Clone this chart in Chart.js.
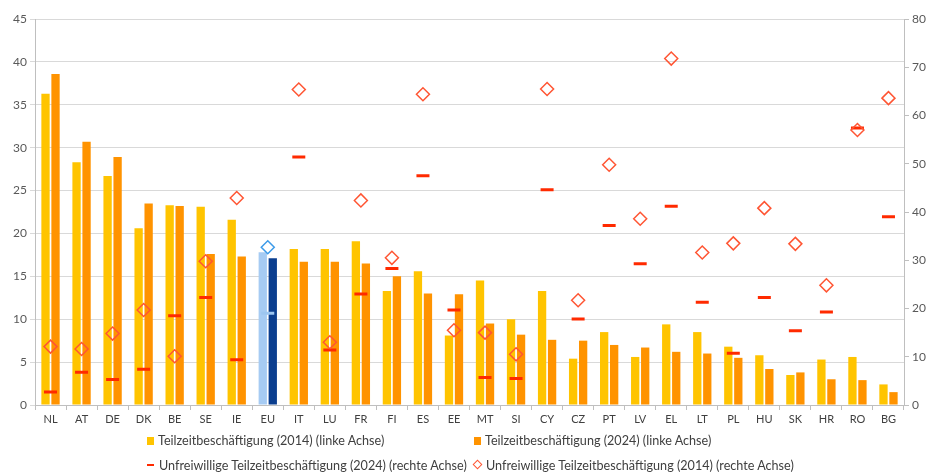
<!DOCTYPE html>
<html lang="de">
<head>
<meta charset="utf-8">
<title>Teilzeitbeschäftigung</title>
<script src="https://cdn.jsdelivr.net/npm/chart.js@4.4.1/dist/chart.umd.min.js"></script>
<style>
  html, body { margin: 0; padding: 0; background: #fff; }
  #wrap { position: relative; width: 928px; height: 474px; }
  #chart { position: absolute; left: 0; top: 0; }
  .leg { position: absolute; font: 12.6px Lato, "Liberation Sans", sans-serif; color: #404040; white-space: nowrap; line-height: 16px; }
  .box { display: inline-block; width: 7px; height: 8px; margin-right: 4px; }
  .dash { display: inline-block; width: 7px; height: 2px; background: #ff2a00; margin-right: 5px; vertical-align: 4px; }
  .dia { display: inline-block; width: 5px; height: 5px; border: 1.5px solid #ff5533; transform: rotate(45deg); margin-right: 5px; vertical-align: 2px; }
</style>
</head>
<body>
<div id="wrap">
  <canvas id="chart" width="928" height="474"></canvas>
  <div class="leg" style="left:147px; top:433px;"><span class="box" style="background:#ffc400"></span>Teilzeitbeschäftigung (2014) (linke Achse)</div>
  <div class="leg" style="left:474px; top:433px;"><span class="box" style="background:#ff9300"></span>Teilzeitbeschäftigung (2024) (linke Achse)</div>
  <div class="leg" style="left:147px; top:458px;"><span class="dash"></span>Unfreiwillige Teilzeitbeschäftigung (2024) (rechte Achse)</div>
  <div class="leg" style="left:474px; top:458px;"><span class="dia"></span>Unfreiwillige Teilzeitbeschäftigung (2014) (rechte Achse)</div>
</div>
<script>
// Länder (EU-Durchschnitt an Position 8)
const countries = ['NL', 'AT', 'DE', 'DK', 'BE', 'SE', 'IE', 'EU', 'IT', 'LU', 'FR', 'FI', 'ES', 'EE',
  'MT', 'SI', 'CY', 'CZ', 'PT', 'LV', 'EL', 'LT', 'PL', 'HU', 'SK', 'HR', 'RO', 'BG'];

// Teilzeitquote in % (linke Achse)
const partTime2014 = [36.3, 28.3, 26.7, 20.6, 23.3, 23.1, 21.6, 17.8, 18.2, 18.2, 19.1, 13.3, 15.6, 8.1,
  14.5, 10.0, 13.3, 5.4, 8.5, 5.6, 9.4, 8.5, 6.8, 5.8, 3.5, 5.3, 5.6, 2.4];
const partTime2024 = [38.6, 30.7, 28.9, 23.5, 23.2, 17.6, 17.3, 17.1, 16.7, 16.7, 16.5, 15.0, 13.0, 12.9,
  9.5, 8.2, 7.6, 7.5, 7.0, 6.7, 6.2, 6.0, 5.5, 4.2, 3.8, 3.0, 2.9, 1.5];

// Anteil unfreiwilliger Teilzeit in % (rechte Achse)
const involuntary2024 = [2.7, 6.8, 5.3, 7.4, 18.5, 22.3, 9.4, 19.0, 51.4, 11.4, 23.0, 28.3, 47.5, 19.7,
  5.7, 5.5, 44.6, 17.8, 37.2, 29.3, 41.2, 21.3, 10.7, 22.3, 15.4, 19.3, 57.4, 39.0];
const involuntary2014 = [12.1, 11.6, 14.8, 19.7, 10.1, 29.8, 42.9, 32.7, 65.4, 13.0, 42.4, 30.5, 64.4, 15.5,
  15.0, 10.5, 65.5, 21.7, 49.8, 38.6, 71.8, 31.6, 33.5, 40.8, 33.4, 24.8, 57.0, 63.6];

// Achsen
const leftMax = 45, leftStep = 5;
const rightMax = 80, rightStep = 10;

// EU wird blau hervorgehoben
function colorsFor(normal, eu) {
  return countries.map(c => c === 'EU' ? eu : normal);
}

const tickFont = { family: 'Lato, "Liberation Sans", sans-serif', size: 12 };

new Chart(document.getElementById('chart'), {
  type: 'bar',
  data: {
    labels: countries,
    datasets: [
      {
        label: 'Teilzeitbeschäftigung (2014) (linke Achse)',
        data: partTime2014,
        backgroundColor: colorsFor('#ffc400', '#a6cbf3'),
        categoryPercentage: 0.645,
        barPercentage: 0.83,
        yAxisID: 'y',
        order: 2
      },
      {
        label: 'Teilzeitbeschäftigung (2024) (linke Achse)',
        data: partTime2024,
        backgroundColor: colorsFor('#ff9300', '#0b3e8f'),
        categoryPercentage: 0.645,
        barPercentage: 0.83,
        yAxisID: 'y',
        order: 2
      },
      {
        type: 'line',
        label: 'Unfreiwillige Teilzeitbeschäftigung (2024) (rechte Achse)',
        data: involuntary2024,
        showLine: false,
        pointStyle: 'line',
        pointRadius: 6.5,
        pointHoverRadius: 6.5,
        pointBorderWidth: 3,
        pointBorderColor: colorsFor('#ff2a00', '#9dc6f0'),
        yAxisID: 'y1',
        order: 1
      },
      {
        type: 'line',
        label: 'Unfreiwillige Teilzeitbeschäftigung (2014) (rechte Achse)',
        data: involuntary2014,
        showLine: false,
        pointStyle: 'rectRot',
        pointRadius: 6.5,
        pointHoverRadius: 6.5,
        pointBorderWidth: 1.5,
        pointBackgroundColor: 'rgba(255,255,255,0)',
        pointBorderColor: colorsFor('#ff5533', '#3d9be9'),
        yAxisID: 'y1',
        order: 0
      }
    ]
  },
  options: {
    responsive: false,
    animation: false,
    layout: { padding: { top: 19, bottom: 47, left: 0, right: 0 } },
    plugins: {
      legend: { display: false },
      tooltip: { enabled: false }
    },
    scales: {
      x: {
        afterFit: s => { s.height = 22; },
        grid: { drawOnChartArea: false, tickLength: 5, color: '#bfbfbf' },
        border: { color: '#bfbfbf' },
        ticks: { color: '#404040', font: { family: tickFont.family, size: 11 }, padding: 3, maxRotation: 0, autoSkip: false }
      },
      y: {
        position: 'left',
        min: 0,
        max: leftMax,
        afterFit: s => { s.width = 35; },
        ticks: { stepSize: leftStep, color: '#595959', font: tickFont, padding: 3 },
        grid: { color: '#d9d9d9', tickLength: 5 },
        border: { color: '#bfbfbf' }
      },
      y1: {
        position: 'right',
        min: 0,
        max: rightMax,
        afterFit: s => { s.width = 24; },
        ticks: { stepSize: rightStep, color: '#595959', font: tickFont, padding: 3 },
        grid: { drawOnChartArea: false, color: '#bfbfbf', tickLength: 5 },
        border: { color: '#bfbfbf' }
      }
    }
  }
});
</script>
</body>
</html>
